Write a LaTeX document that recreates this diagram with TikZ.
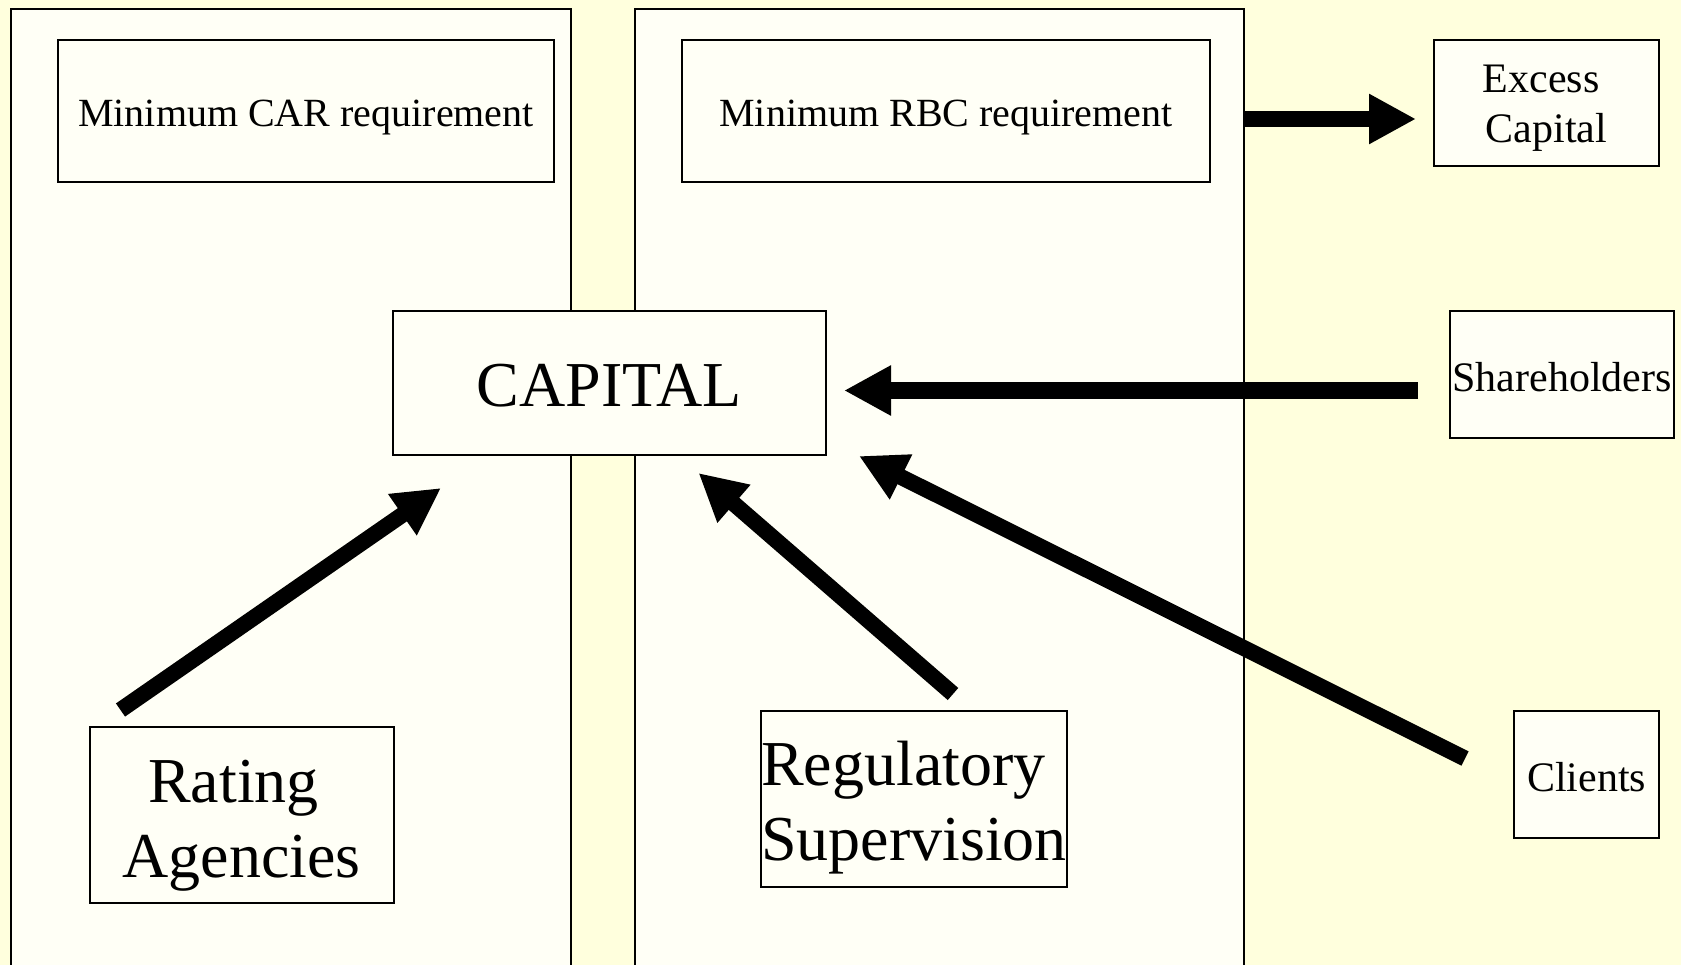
\documentclass[tikz,border=0pt]{standalone}
\usepackage{fontspec}
\setmainfont{Liberation Serif}
\usetikzlibrary{positioning,calc,arrows.meta}
\definecolor{slidebg}{RGB}{255,255,221}
\definecolor{panelbg}{RGB}{255,255,246}
\tikzset{
  panel/.style={draw,line width=2pt,fill=panelbg,inner sep=0pt,anchor=north west},
  box/.style={draw,line width=2pt,fill=panelbg,inner sep=0pt,align=center,text depth=0pt},
  flow/.style={line width=16pt,-{Triangle[length=47pt,width=47pt]}},
  smalltxt/.style={font=\fontsize{40}{48}\selectfont},
  midtxt/.style={font=\fontsize{42}{50}\selectfont},
  bigtxt/.style={font=\fontsize{64}{75}\selectfont}
}

\begin{document}
\begin{tikzpicture}[x=1pt,y=-1pt]
\useasboundingbox (0,0) rectangle (1681,965);
\clip (0,0) rectangle (1681,965);
\fill[slidebg] (0,0) rectangle (1681,965);
% the two panels run off the bottom
\node[panel,minimum width=560pt,minimum height=985pt] (carpanel) at (10,8) {};
\node[panel,minimum width=609pt,minimum height=985pt] (rbcpanel) at (634,8) {};

\node[box,smalltxt,minimum width=496pt,minimum height=142pt,text height=31.4pt] (car) at (306,111) {Minimum CAR requirement};
\node[box,smalltxt,minimum width=528pt,minimum height=142pt,text height=31.4pt] (rbc) at (946,111) {Minimum RBC requirement};
\node[box,midtxt,minimum width=225pt,minimum height=126pt,text height=80pt] (excess) at (1546.5,103) {Excess\kern0.25em\\Capital};
\node[box,bigtxt,minimum width=433pt,minimum height=144pt,text height=47.4pt] (capital) at (609.5,383) {CAPITAL};
\node[box,midtxt,minimum width=224pt,minimum height=127pt,text height=34pt] (share) at (1562,374.5) {Shareholders};
\node[box,bigtxt,minimum width=304pt,minimum height=176pt,text height=124pt] (rating) at (241.5,815) {Rating\kern0.25em\\Agencies};
\node[box,bigtxt,align=left,minimum width=304pt,minimum height=176pt,text height=122pt] (reg) at (914,799) {Regulatory\\Supervision};
\node[box,midtxt,minimum width=145pt,minimum height=127pt,text height=33pt] (clients) at (1586.5,774.5) {Clients};

% arrow ends
\coordinate (exc-tip) at ([shift={(-17,16)}]excess.west);
\coordinate (sh-tail) at ([shift={(-31,16)}]share.west);
\coordinate (sh-tip) at ([xshift=17pt]capital.east |- sh-tail);
\coordinate (ra-tail) at ([shift={(32,-16)}]rating.north west);
\coordinate (ra-tip) at ([shift={(49,32)}]capital.south west);
\coordinate (reg-tail) at ([shift={(39,-16)}]reg.north);
\coordinate (reg-tip) at ([shift={(89,17)}]capital.south);
\coordinate (cl-tail) at ([shift={(-48,-16)}]clients.west);
\coordinate (cl-tip) at ([shift={(32,0)}]capital.south east);

\draw[flow] (rbcpanel.east |- exc-tip) -- (exc-tip);
\draw[flow] (sh-tail) -- (sh-tip);
\draw[flow] (ra-tail) -- (ra-tip);
\draw[flow] (reg-tail) -- (reg-tip);
\draw[flow] (cl-tail) -- (cl-tip);
\end{tikzpicture}
\end{document}
